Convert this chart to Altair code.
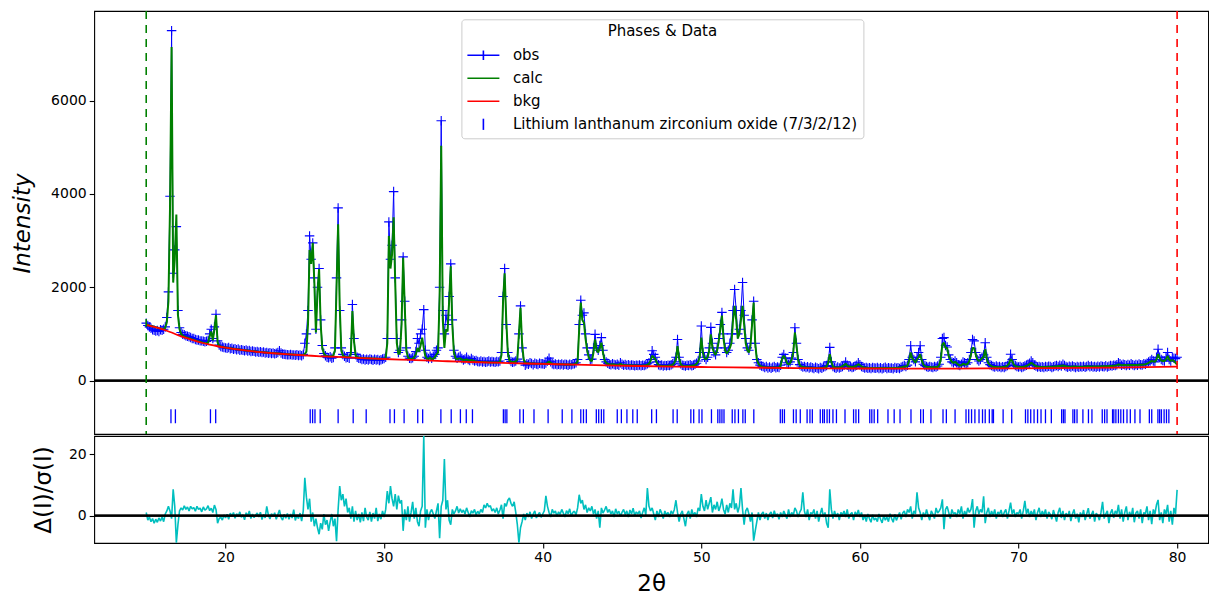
import altair as alt
import pandas as pd

# ---------------- data ----------------
TTH_START = 15.0   # first 2-theta of the pattern
TTH_STEP = 0.1     # sampling step of the arrays below

# observed intensity, one row per degree (x.0 ... x.9)
obs = [
    1230, 1180, 1150, 1120, 1090, 1080, 1060, 1070, 1050, 1090,  # 15
    1080, 1100, 1150, 1350, 1900, 3950, 7500, 2300, 2800, 3300,  # 16
    1500, 1130, 1030, 990, 980, 960, 950, 940, 920, 900,  # 17
    900, 880, 870, 870, 850, 850, 840, 830, 840, 860,  # 18
    1000, 1100, 900, 1150, 1420, 850, 760, 730, 720, 710,  # 19
    700, 690, 710, 680, 690, 670, 680, 660, 675, 650,  # 20
    660, 650, 640, 655, 635, 645, 620, 635, 625, 610,  # 21
    620, 605, 615, 600, 610, 590, 600, 585, 595, 580,  # 22
    590, 575, 585, 600, 640, 590, 570, 565, 560, 555,  # 23
    550, 560, 545, 550, 540, 555, 535, 545, 530, 560,  # 24
    800, 1000, 1500, 3100, 2600, 2950, 2200, 1100, 2000, 2400,  # 25
    1300, 750, 580, 530, 500, 490, 510, 480, 495, 700,  # 26
    2200, 3700, 1500, 700, 560, 520, 490, 500, 480, 600,  # 27
    1630, 900, 560, 500, 480, 470, 450, 460, 440, 455,  # 28
    440, 460, 450, 435, 455, 440, 450, 430, 445, 460,  # 29
    470, 500, 900, 3400, 2600, 2900, 4050, 2200, 900, 600,  # 30
    650, 1300, 2650, 1700, 700, 520, 480, 470, 490, 520,  # 31
    620, 900, 800, 1000, 1100, 1520, 650, 500, 470, 520,  # 32
    480, 520, 560, 650, 700, 2000, 5570, 1500, 1000, 1400,  # 33
    1200, 1800, 2500, 1300, 650, 520, 480, 500, 520, 470,  # 34
    440, 460, 500, 450, 430, 470, 440, 420, 430, 410,  # 35
    400, 420, 395, 410, 390, 405, 420, 395, 410, 400,  # 36
    390, 410, 400, 420, 600, 1800, 2400, 1200, 600, 450,  # 37
    410, 390, 400, 420, 460, 1000, 1600, 700, 400, 330,  # 38
    360, 350, 380, 365, 340, 370, 355, 345, 370, 360,  # 39
    360, 350, 375, 420, 480, 400, 360, 345, 355, 340,  # 40
    350, 340, 355, 335, 350, 345, 330, 350, 340, 355,  # 41
    360, 380, 450, 1200, 1720, 1400, 1450, 1000, 700, 550,  # 42
    450, 460, 700, 990, 700, 650, 750, 920, 650, 450,  # 43
    400, 370, 350, 340, 360, 345, 335, 350, 330, 380,  # 44
    350, 330, 345, 325, 340, 320, 335, 330, 315, 330,  # 45
    320, 335, 315, 330, 320, 340, 360, 380, 450, 640,  # 46
    560, 500, 400, 340, 320, 335, 310, 325, 315, 330,  # 47
    320, 340, 360, 400, 500, 880, 500, 360, 330, 320,  # 48
    310, 330, 320, 340, 315, 330, 350, 370, 420, 600,  # 49
    1170, 600, 500, 450, 500, 700, 1140, 800, 600, 550,  # 50
    700, 900, 1200, 1460, 1000, 700, 600, 650, 800, 1000,  # 51
    1500, 1950, 1500, 1000, 1100, 1500, 2100, 1400, 900, 700,  # 52
    650, 800, 1300, 1700, 800, 450, 380, 330, 310, 300,  # 53
    280, 300, 270, 290, 265, 285, 300, 275, 290, 280,  # 54
    330, 500, 560, 480, 380, 350, 400, 480, 600, 1130,  # 55
    800, 450, 340, 310, 290, 300, 280, 295, 270, 290,  # 56
    275, 260, 285, 270, 255, 280, 265, 290, 300, 320,  # 57
    400, 710, 400, 300, 280, 265, 290, 270, 285, 300,  # 58
    330, 400, 330, 290, 300, 280, 290, 310, 330, 380,  # 59
    340, 300, 285, 270, 280, 265, 275, 260, 280, 270,  # 60
    265, 280, 260, 275, 255, 270, 285, 260, 275, 265,  # 61
    270, 255, 280, 265, 275, 260, 285, 300, 320, 300,  # 62
    330, 450, 745, 500, 450, 400, 500, 600, 745, 450,  # 63
    350, 320, 300, 285, 300, 290, 280, 300, 290, 310,  # 64
    350, 500, 900, 920, 750, 720, 550, 450, 400, 380,  # 65
    420, 380, 340, 320, 350, 400, 380, 350, 380, 450,  # 66
    600, 880, 850, 600, 450, 420, 450, 500, 550, 810,  # 67
    500, 380, 340, 320, 300, 290, 310, 290, 300, 280,  # 68
    295, 280, 300, 320, 380, 565, 450, 350, 320, 300,  # 69
    290, 300, 280, 295, 310, 330, 350, 370, 420, 380,  # 70
    330, 310, 290, 300, 285, 295, 280, 300, 290, 305,  # 71
    300, 280, 295, 310, 320, 300, 330, 310, 350, 320,  # 72
    300, 285, 305, 290, 310, 295, 280, 300, 285, 300,  # 73
    290, 305, 285, 300, 320, 295, 310, 290, 300, 285,  # 74
    305, 290, 310, 300, 295, 315, 290, 305, 320, 310,  # 75
    330, 320, 340, 380, 360, 330, 350, 340, 320, 345,  # 76
    330, 360, 340, 320, 345, 330, 355, 340, 335, 360,  # 77
    350, 370, 400, 420, 450, 420, 400, 500, 670, 500,  # 78
    450, 430, 420, 500, 600, 450, 420, 500, 480, 470,  # 79
    500,  # 80
]

# calculated intensity
calc = [
    1200, 1190, 1180, 1170, 1162, 1153, 1143, 1134, 1124, 1115,  # 15
    1105, 1110, 1130, 1250, 1700, 3700, 7150, 2100, 2600, 3560,  # 16
    1400, 1100, 1000, 960, 945, 930, 918, 906, 894, 882,  # 17
    870, 860, 850, 840, 830, 820, 812, 805, 800, 810,  # 18
    950, 1050, 860, 1100, 1400, 820, 740, 730, 722, 715,  # 19
    708, 703, 698, 693, 688, 683, 678, 673, 668, 663,  # 20
    658, 654, 650, 646, 642, 638, 634, 630, 626, 622,  # 21
    618, 615, 612, 609, 606, 603, 600, 597, 594, 591,  # 22
    588, 585, 583, 580, 578, 575, 573, 570, 568, 565,  # 23
    563, 561, 559, 557, 555, 553, 551, 549, 547, 548,  # 24
    570, 620, 1200, 2800, 2500, 2950, 2100, 1030, 1900, 2390,  # 25
    1200, 700, 580, 540, 525, 518, 515, 520, 540, 650,  # 26
    2000, 3350, 1600, 650, 540, 515, 505, 500, 510, 560,  # 27
    1490, 850, 540, 500, 490, 486, 484, 482, 480, 478,  # 28
    477, 476, 474, 473, 471, 470, 469, 467, 466, 465,  # 29
    465, 480, 800, 3100, 2400, 2700, 3500, 2100, 800, 560,  # 30
    600, 1200, 2630, 1600, 650, 500, 470, 460, 470, 500,  # 31
    560, 700, 620, 750, 920, 700, 520, 470, 460, 500,  # 32
    450, 470, 500, 560, 600, 1800, 5030, 1300, 700, 1100,  # 33
    1050, 1700, 2450, 1200, 600, 480, 460, 470, 480, 450,  # 34
    440, 445, 455, 440, 425, 440, 430, 415, 410, 405,  # 35
    400, 398, 396, 394, 392, 390, 389, 388, 387, 386,  # 36
    385, 388, 392, 400, 550, 1700, 2300, 1300, 600, 430,  # 37
    400, 395, 398, 410, 450, 1000, 1560, 800, 450, 380,  # 38
    370, 368, 367, 366, 365, 364, 362, 361, 360, 360,  # 39
    358, 358, 362, 380, 410, 380, 360, 355, 352, 350,  # 40
    350, 348, 348, 347, 346, 345, 344, 343, 342, 345,  # 41
    350, 370, 400, 1100, 1670, 1300, 1240, 900, 650, 500,  # 42
    430, 420, 600, 880, 650, 600, 700, 810, 600, 430,  # 43
    380, 360, 350, 345, 348, 345, 340, 338, 340, 360,  # 44
    340, 335, 330, 328, 330, 325, 325, 322, 320, 320,  # 45
    320, 318, 318, 320, 322, 330, 340, 360, 420, 530,  # 46
    500, 460, 380, 330, 318, 315, 313, 312, 312, 315,  # 47
    320, 325, 340, 380, 450, 740, 480, 350, 320, 310,  # 48
    308, 310, 312, 318, 320, 325, 335, 355, 400, 500,  # 49
    920, 600, 480, 450, 500, 650, 990, 700, 600, 550,  # 50
    650, 850, 1100, 1390, 900, 650, 580, 620, 700, 800,  # 51
    1300, 1600, 1300, 900, 1000, 1300, 1600, 1200, 800, 650,  # 52
    600, 750, 1200, 1670, 800, 450, 360, 320, 300, 290,  # 53
    285, 283, 282, 281, 280, 279, 279, 278, 278, 280,  # 54
    320, 480, 530, 470, 380, 340, 380, 450, 600, 1030,  # 55
    750, 450, 340, 300, 290, 285, 280, 278, 275, 275,  # 56
    272, 270, 268, 268, 267, 268, 270, 275, 285, 300,  # 57
    380, 565, 400, 300, 285, 280, 280, 280, 290, 310,  # 58
    330, 360, 320, 300, 295, 290, 295, 305, 320, 350,  # 59
    330, 300, 285, 278, 275, 272, 270, 268, 268, 268,  # 60
    268, 268, 267, 267, 267, 267, 268, 268, 268, 268,  # 61
    268, 268, 270, 272, 275, 278, 282, 290, 300, 300,  # 62
    320, 420, 600, 480, 430, 380, 450, 500, 565, 430,  # 63
    340, 310, 295, 290, 288, 286, 285, 286, 288, 290,  # 64
    330, 450, 780, 810, 700, 700, 520, 450, 400, 380,  # 65
    400, 370, 340, 320, 330, 360, 350, 340, 360, 420,  # 66
    550, 700, 700, 560, 450, 420, 440, 480, 500, 670,  # 67
    460, 370, 330, 310, 295, 290, 288, 286, 285, 285,  # 68
    288, 290, 300, 320, 360, 460, 420, 340, 310, 300,  # 69
    295, 292, 290, 292, 300, 315, 330, 350, 380, 360,  # 70
    330, 310, 300, 295, 292, 290, 290, 292, 295, 295,  # 71
    295, 293, 295, 300, 305, 305, 310, 315, 320, 315,  # 72
    305, 300, 298, 298, 300, 302, 300, 298, 298, 298,  # 73
    298, 298, 300, 302, 305, 303, 300, 300, 300, 300,  # 74
    302, 302, 304, 305, 306, 307, 308, 310, 312, 314,  # 75
    318, 322, 330, 345, 340, 330, 332, 335, 330, 332,  # 76
    332, 335, 335, 332, 335, 335, 338, 338, 338, 345,  # 77
    350, 360, 380, 400, 420, 410, 400, 450, 565, 480,  # 78
    430, 420, 420, 450, 530, 450, 420, 440, 420, 380,  # 79
    340,  # 80
]

# background curve (sparse points)
bkg_tth = [15, 15.5, 16, 16.5, 17, 17.5, 18, 18.5, 19, 19.5, 20, 21, 22, 23, 24, 25,
           26, 27, 28, 29, 30, 31, 32, 33, 34, 35, 36, 37, 38, 40, 42, 44, 46, 48,
           50, 52, 54, 56, 58, 60, 62, 64, 66, 68, 70, 72, 74, 76, 78, 80]
bkg_val = [1195, 1150, 1100, 1040, 975, 915, 860, 810, 770, 735, 705, 655, 615, 585, 560, 540,
           520, 505, 490, 475, 462, 450, 437, 425, 413, 402, 392, 382, 373, 355, 340, 325, 312, 300,
           290, 282, 274, 267, 262, 258, 256, 256, 257, 259, 262, 266, 271, 278, 287, 298]

# normalised difference (obs-calc)/sigma
resid = [
    1.0, -1.5, -0.5, -2.0, -1.0, -2.5, -1.2, -2.2, -0.8, -1.8,  # 15
    -0.5, -2.0, 0.5, 1.5, 3.0, 1.5, -1.0, 8.6, 3.0, -8.85,  # 16
    -3.0, 1.5, 2.5, 1.8, 3.2, 2.0, 2.8, 1.5, 3.0, 2.2,  # 17
    2.6, 1.4, 3.0, 2.0, 2.4, 1.2, 2.8, 1.8, 2.2, 3.2,  # 18
    1.6, 2.4, 1.0, 3.4, 2.0, -2.5, -1.0, -0.5, -1.5, 0.2,  # 19
    -0.8, 0.4, -1.2, 0.8, -0.3, 1.0, -0.9, 0.6, -0.4, 1.2,  # 20
    -0.6, 0.3, -1.4, 0.9, -0.2, 1.5, -1.0, 0.5, -0.7, 0.2,  # 21
    0.8, -0.5, 1.1, -1.3, 0.4, -0.8, 3.0, 0.2, -1.1, 0.6,  # 22
    -0.4, 0.9, -1.2, 0.3, 1.8, -0.6, -1.5, 0.4, -0.9, 0.7,  # 23
    -1.2, 0.5, -0.8, 1.9, -1.6, 0.2, -1.0, 0.8, -1.8, 1.4,  # 24
    12.3, 6.0, 2.0, 5.5, -2.0, 1.0, -3.5, -1.0, -4.0, -6.1,  # 25
    -2.5, -4.5, 0.5, -3.0, -1.5, -5.0, -2.0, 0.5, -3.5, -1.0,  # 26
    -8.4, 2.0, 9.6, 5.0, 7.0, 3.0, 5.5, 1.0, 2.5, -1.0,  # 27
    3.0, -2.0, 1.5, -1.5, 0.5, -2.2, 1.0, -1.8, 2.5, -0.5,  # 28
    -1.5, 1.2, -2.0, 0.8, -1.0, 2.5, -1.8, 0.5, -1.2, 1.5,  # 29
    -0.5, 2.0, 8.0, 4.0, 9.6, 5.5, 3.0, 7.0, 2.0, 6.5,  # 30
    4.0, 5.0, -5.0, 2.0, -1.5, 3.0, -2.0, 1.0, 4.5, -1.0,  # 31
    2.5, -2.0, -3.5, 1.5, 3.0, 26.0, -4.0, 2.0, -1.5, 1.0,  # 32
    2.0, 0.5, -1.0, 1.5, 4.0, -7.4, 3.0, 5.0, 18.5, 2.0,  # 33
    5.0, -1.5, -3.0, 2.0, 0.5, 1.5, 3.0, 0.8, 2.2, 1.0,  # 34
    1.8, 0.5, 2.5, 1.0, -0.5, 1.6, 0.8, 2.0, 0.2, 1.4,  # 35
    0.6, 2.0, 1.0, 3.5, 2.5, 4.0, 2.8, 3.2, 1.5, 2.2,  # 36
    1.0, 2.5, 0.5, 1.8, 3.5, -1.0, 4.0, 3.0, 5.0, 5.7,  # 37
    4.0, 3.0, 4.5, 1.0, -3.0, -8.85, -4.0, -2.0, 0.5, -1.5,  # 38
    0.8, -0.5, 1.2, -1.0, 0.5, 1.5, -0.8, 0.2, 1.0, -0.6,  # 39
    0.5, 1.5, 6.4, 3.0, 1.0, -0.5, 2.0, 0.8, 1.5, -0.3,  # 40
    1.2, 0.4, 2.0, 0.8, -0.5, 1.6, 0.6, 2.2, -0.2, 1.0,  # 41
    1.4, 0.2, 2.5, 6.8, 4.0, 5.0, 2.0, 3.5, 1.0, 2.5,  # 42
    1.5, 3.0, 0.5, 2.0, -1.0, 1.5, -4.0, 2.5, 0.8, 1.8,  # 43
    3.0, 1.0, 2.0, 0.5, 1.5, -0.5, 2.2, 0.6, 1.4, -0.2,  # 44
    1.0, 2.0, 0.3, 1.5, -0.5, 1.8, 0.5, 2.4, 0.0, 1.2,  # 45
    0.5, 1.5, -0.8, 1.0, 2.5, 0.2, 9.0, 3.0, 1.5, 2.5,  # 46
    0.5, -1.5, 1.5, -0.5, 2.0, 0.8, -1.0, 1.5, 0.2, 1.0,  # 47
    -0.5, 1.5, 0.5, 2.0, 5.0, 1.0, -2.0, 0.5, 1.5, -1.0,  # 48
    -3.5, 0.5, 1.5, -1.0, 2.0, 0.0, 1.0, -0.5, 2.5, 1.5,  # 49
    7.0, 3.0, 1.5, 5.0, 2.0, 4.0, 6.0, 1.0, 3.5, 2.0,  # 50
    4.5, 1.5, 3.0, 5.5, 2.0, 0.5, 3.5, 1.0, 4.0, 2.5,  # 51
    8.6, 2.0, 4.0, 1.0, 3.0, 9.0, 2.0, -3.0, 1.5, 2.5,  # 52
    0.5, -2.0, 1.0, -8.2, -5.0, -2.0, 1.0, -1.5, 0.5, 1.2,  # 53
    -1.0, 0.8, -1.5, 0.5, 1.2, -0.8, 1.6, -0.3, 0.6, -1.2,  # 54
    1.0, -0.5, 1.5, 0.2, -1.0, 2.0, -0.5, 1.0, 0.0, 2.5,  # 55
    1.5, -0.5, 1.0, 2.0, 7.6, 1.5, -0.5, 2.0, -1.5, 1.0,  # 56
    0.5, 2.0, -1.0, 1.5, -2.0, 0.5, 2.5, -0.5, 1.0, -2.5,  # 57
    -4.0, 8.6, 2.0, -1.0, 1.5, -0.5, 0.8, -1.5, 1.0, 0.2,  # 58
    1.5, -0.5, 2.0, -1.0, 0.5, 1.0, -1.5, 1.2, 0.0, 1.8,  # 59
    -0.5, 1.0, -1.5, 0.2, -2.0, 0.5, -1.0, -2.2, 0.3, -1.5,  # 60
    -0.8, -2.0, 0.5, -1.2, -2.4, 0.0, -1.5, -0.5, -2.0, 0.6,  # 61
    -1.0, -2.2, 0.4, -1.6, -0.3, 1.0, -1.2, 0.8, 1.5, -0.5,  # 62
    2.0, 1.0, 3.0, -1.0, 1.5, 0.5, 7.6, 2.5, 1.0, -1.5,  # 63
    1.0, -0.5, 2.0, 0.0, -1.5, 1.5, 0.5, -1.0, 2.5, 0.8,  # 64
    1.5, 2.5, 5.3, -4.5, 2.0, 3.0, 1.0, -1.0, 2.0, 0.5,  # 65
    1.0, -0.5, 2.0, 0.5, 3.0, -1.0, 1.5, 0.0, 2.5, 1.0,  # 66
    2.0, 5.4, -4.0, 1.5, 3.0, 0.5, 2.0, 1.0, 6.3, -2.5,  # 67
    1.0, 2.5, -0.5, 1.5, 0.0, 2.0, -1.0, 1.2, 0.4, 1.8,  # 68
    -0.5, 1.0, 2.0, -1.0, 1.5, 4.2, 0.5, 2.0, -0.5, 1.0,  # 69
    0.5, 2.0, -1.0, 1.5, 4.8, 0.5, 2.2, -0.5, 1.5, 0.0,  # 70
    2.0, -1.5, 1.0, 2.5, -0.5, 1.5, 0.0, 2.0, -1.0, 1.2,  # 71
    0.4, -1.2, 1.8, 0.0, -2.0, 1.0, 2.5, -0.8, 1.5, -1.5,  # 72
    0.8, -0.5, 1.5, -1.8, 0.5, 2.0, -1.0, 0.6, -2.2, 1.0,  # 73
    -0.5, 1.8, -1.5, 0.5, 2.4, -1.0, 0.3, 1.5, -2.0, 0.8,  # 74
    0.0, -1.5, 1.0, 4.5, -1.0, 0.5, 1.5, -2.5, 0.8, 2.0,  # 75
    -0.8, 1.5, 0.5, 3.5, -1.0, 2.0, -2.0, 1.0, 3.0, -1.5,  # 76
    1.2, -0.5, 2.5, -2.2, 0.8, 1.5, -1.0, 2.0, -2.5, 1.0,  # 77
    0.5, 3.0, -1.5, 1.5, -2.8, 2.0, 0.5, 3.5, 5.1, -1.5,  # 78
    1.0, -2.5, 2.0, 0.5, 3.5, -2.0, 1.5, -3.0, 2.5, 0.5,  # 79
    8.4,  # 80
]

# reflection positions of the phase (tick marks)
refl_tth = [
    16.56, 16.84, 19.05, 19.38, 25.34, 25.49, 25.64, 25.97, 27.10, 28.05, 28.87,
    30.37, 30.65, 31.26, 32.12, 32.43, 33.58, 34.23, 34.81, 35.18, 35.57,
    37.52, 37.63, 37.74, 38.56, 38.78, 39.45, 40.34, 41.23, 41.84, 42.40, 42.57,
    42.75, 43.38, 43.53, 43.70, 43.85, 44.70, 44.96, 45.31, 45.68, 45.96, 46.87,
    47.17, 48.22, 48.48, 49.34, 49.52, 49.86, 50.04, 50.64, 51.04, 51.17, 51.30,
    51.43, 51.95, 52.12, 52.34, 52.62, 52.77, 53.31, 54.98, 55.11, 55.24, 55.81,
    55.98, 56.24, 56.67, 56.85, 57.00, 57.50, 57.65, 57.76, 57.93, 58.08, 58.30,
    58.52, 59.06, 59.60, 59.75, 59.92, 60.62, 60.75, 60.90, 61.12, 61.77, 62.16,
    62.53, 63.22, 63.83, 64.00, 64.48, 65.24, 65.45, 66.00, 66.69, 66.86, 67.04,
    67.25, 67.51, 67.73, 67.90, 68.16, 68.34, 68.42, 69.03, 69.57, 70.44, 70.59,
    70.77, 70.98, 71.20, 71.42, 71.70, 72.07, 72.72, 72.83, 72.93, 73.43, 73.54,
    73.69, 74.06, 74.41, 74.63, 75.28, 75.43, 75.58, 75.93, 76.01, 76.14, 76.30,
    76.45, 76.62, 76.84, 77.05, 77.34, 77.66, 78.25, 78.40, 78.79, 78.90, 79.01,
    79.18, 79.33, 79.48,
]

limits_low = [15]
limits_high = [80]

SERIES = ["obs", "calc", "bkg", "Lithium lanthanum zirconium oxide (7/3/2/12)"]
Y_TICKS = [0, 2000, 4000, 6000]
R_TICKS = [0, 20]
X_TICKS = [20, 30, 40, 50, 60, 70, 80]

# ---------------- styling ----------------
BLUE, GREEN, RED, CYAN = "#0000ff", "#008000", "#ff0000", "#00bfbf"
FONT = "DejaVu Sans"
PLUS = "M-1,0H1M0,-1V1"
SERIES_COLORS = [BLUE, GREEN, RED, BLUE]
SERIES_SHAPES = ["M-1,0H3M1,-0.6V0.6", "M-1,0H3", "M-1,0H3", "M1,-0.7V0.7"]

PX_PER_DEG = 15.86
W, H_MAIN, H_RES = 1114, 423, 107
X_DOM = [11.72, 11.72 + W / PX_PER_DEG]
Y_DOM = [-1146, 7921]
R_DOM = [-8.98, 26.0]


def grid(values):
    return [round(TTH_START + i * TTH_STEP, 2) for i in range(len(values))]


obs_df = pd.DataFrame({"tth": grid(obs), "val": obs})
calc_df = pd.DataFrame({"tth": grid(calc), "val": calc})
res_df = pd.DataFrame({"tth": grid(resid), "val": resid})
bkg_df = pd.DataFrame({"tth": bkg_tth, "val": bkg_val})
refl_df = pd.DataFrame({"tth": refl_tth})
low_df = pd.DataFrame({"tth": limits_low})
high_df = pd.DataFrame({"tth": limits_high})
leg_df = pd.DataFrame({"series": SERIES})

xs = alt.Scale(domain=X_DOM, nice=False, zero=False)
ys = alt.Scale(domain=Y_DOM, nice=False, zero=False)
rs = alt.Scale(domain=R_DOM, nice=False, zero=False)

X_MAIN = alt.X("tth:Q", scale=xs, axis=None)
Y_AXIS = alt.Axis(values=Y_TICKS, format="d", title="Intensity", titleFontSize=23,
                  titleFontStyle="italic", titleFontWeight="normal", titleX=-71.5,
                  titleY=212, titleBaseline="middle", titleAlign="center")
Y_MAIN = alt.Y("val:Q", scale=ys, axis=Y_AXIS)

obs_line = alt.Chart(obs_df).mark_line(color=BLUE, strokeWidth=1, strokeJoin="bevel",
                                       clip=True).encode(x=X_MAIN, y=Y_MAIN)
obs_pts = alt.Chart(obs_df).mark_point(shape=PLUS, size=90, filled=False, color=BLUE,
                                       strokeWidth=1.1, opacity=1, clip=True).encode(x=X_MAIN, y=Y_MAIN)
calc_line = alt.Chart(calc_df).mark_line(color=GREEN, strokeWidth=2, strokeJoin="bevel",
                                         clip=True).encode(x=X_MAIN, y=Y_MAIN)
bkg_line = alt.Chart(bkg_df).mark_line(color=RED, strokeWidth=1.8, interpolate="monotone",
                                       clip=True).encode(x=X_MAIN, y=Y_MAIN)
refl = alt.Chart(refl_df).mark_rule(color=BLUE, strokeWidth=1.3, clip=True).encode(
    x=X_MAIN, y=alt.YDatum(-615, scale=ys, axis=Y_AXIS), y2=alt.Y2Datum(-915))
zero_main = alt.Chart(leg_df).mark_rule(color="black", strokeWidth=1.8, clip=True).encode(
    y=alt.YDatum(0, scale=ys, axis=Y_AXIS))
low_line = alt.Chart(low_df).mark_rule(color=GREEN, strokeWidth=1.6, strokeDash=[8, 6],
                                       clip=True).encode(x=X_MAIN)
high_line = alt.Chart(high_df).mark_rule(color=RED, strokeWidth=1.6, strokeDash=[8, 6],
                                         clip=True).encode(x=X_MAIN)

LEG = alt.Legend(title="Phases & Data", orient="none", legendX=367.2, legendY=8.3,
                 titleAnchor="middle", titleFontSize=15, titleFont=FONT, titleFontWeight="normal",
                 titleColor="black", titlePadding=7, labelFontSize=15, labelFont=FONT,
                 labelColor="black", labelLimit=600, labelOffset=28.5, symbolSize=256,
                 symbolStrokeWidth=1.6, symbolOpacity=1, rowPadding=6, padding=5,
                 fillColor="white", strokeColor="#cccccc", cornerRadius=3)
legend_layer = alt.Chart(leg_df).mark_point(filled=False, opacity=0).encode(
    x=alt.value(20), y=alt.value(20),
    color=alt.Color("series:N", scale=alt.Scale(domain=SERIES, range=SERIES_COLORS), legend=LEG),
    shape=alt.Shape("series:N", scale=alt.Scale(domain=SERIES, range=SERIES_SHAPES), legend=LEG),
)

main = alt.layer(obs_line, obs_pts, calc_line, bkg_line, refl, zero_main, low_line,
                 high_line, legend_layer).properties(width=W, height=H_MAIN)

R_AXIS = alt.Axis(values=R_TICKS, format="d", title="Δ(I)/σ(I)", titleFontSize=23,
                  titleFontWeight="normal", titleX=-50.5, titleY=H_RES / 2,
                  titleBaseline="middle", titleAlign="center")
X_RES = alt.X("tth:Q", scale=xs, axis=alt.Axis(values=X_TICKS, format="d", title="2θ",
                                                titleFontSize=23, titleFontWeight="normal",
                                                titlePadding=8))
res_line = alt.Chart(res_df).mark_line(color=CYAN, strokeWidth=1.6, strokeJoin="bevel",
                                       clip=True).encode(
    x=X_RES, y=alt.Y("val:Q", scale=rs, axis=R_AXIS))
zero_res = alt.Chart(leg_df).mark_rule(color="black", strokeWidth=1.8, clip=True).encode(
    y=alt.YDatum(0, scale=rs, axis=R_AXIS))
resid_chart = alt.layer(res_line, zero_res).properties(width=W, height=H_RES)

chart = (
    alt.vconcat(main, resid_chart, spacing=0)
    .properties(padding={"left": 2.2, "top": 2, "right": 0, "bottom": 0})
    .configure_view(stroke="black", strokeWidth=1.1)
    .configure_axis(labelFont=FONT, titleFont=FONT, labelFontSize=14, labelColor="black",
                    titleColor="black", tickColor="black", tickSize=5, tickWidth=1.1,
                    labelPadding=3, grid=False, domain=False)
)

chart.save("out.html", embed_options={"renderer": "svg", "actions": False})
